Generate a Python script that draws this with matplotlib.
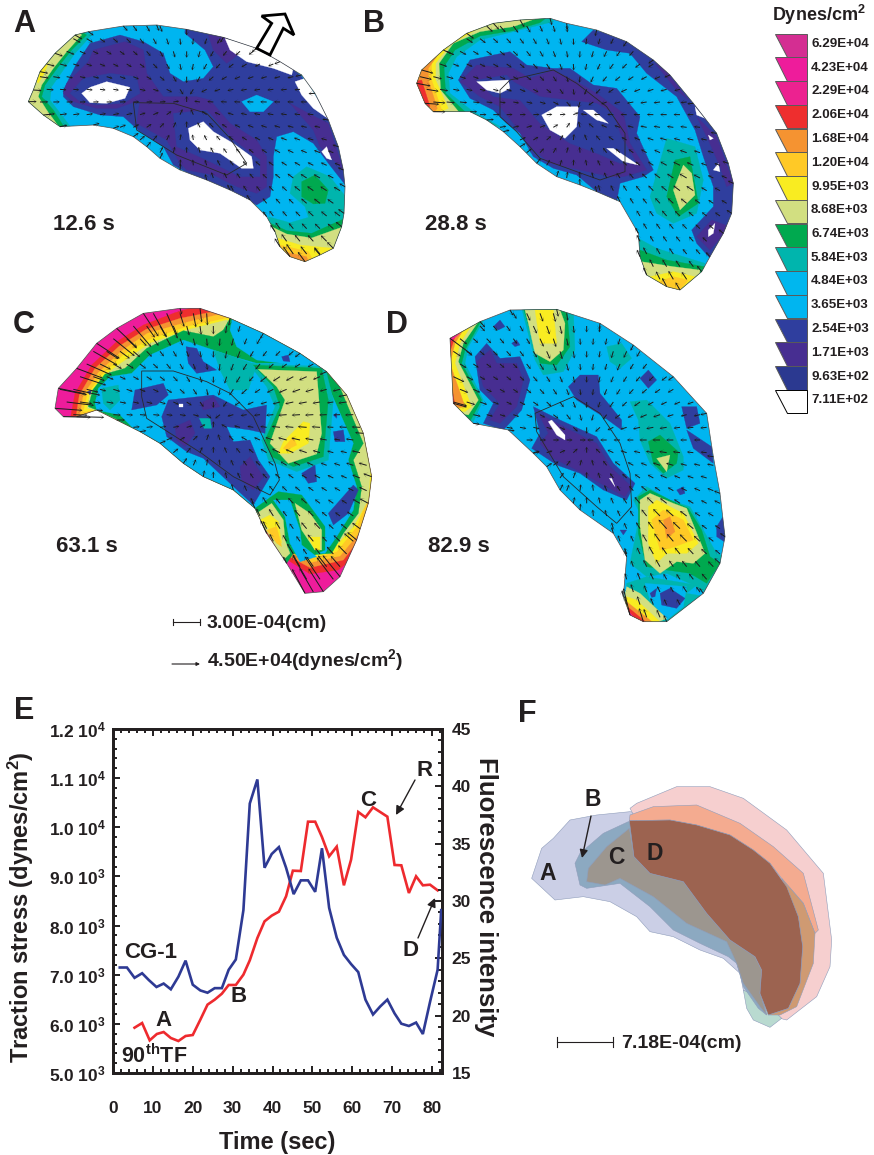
import matplotlib
matplotlib.use("Agg")
import matplotlib.pyplot as plt
import numpy as np
from matplotlib.patches import Polygon
from matplotlib.path import Path
from matplotlib.ticker import FixedLocator, MultipleLocator

plt.rcParams.update({
    "font.family": ["Liberation Sans", "DejaVu Sans"],
    "font.weight": "bold",
    "axes.labelweight": "bold",
    "mathtext.fontset": "custom",
    "mathtext.bf": "Liberation Sans:bold",
    "mathtext.rm": "Liberation Sans:bold",
    "mathtext.default": "bf",
    "text.color": "#231F20",
    "axes.labelcolor": "#231F20",
    "xtick.color": "#231F20",
    "ytick.color": "#231F20",
})

INK = "#231F20"

# stress legend, top to bottom
LEVEL_LABELS = ["6.29E+04", "4.23E+04", "2.29E+04", "2.06E+04", "1.68E+04", "1.20E+04",
                "9.95E+03", "8.68E+03", "6.74E+03", "5.84E+03", "4.84E+03", "3.65E+03",
                "2.54E+03", "1.71E+03", "9.63E+02", "7.11E+02"]
LEVEL_COLORS = ["#D42E92", "#EE1C9B", "#EC2290", "#EE2E2E", "#F59331", "#FFC926",
                "#F9EC21", "#D2DF81", "#00A94F", "#00B5AD", "#00B7EE", "#00B5F0",
                "#2F3E9E", "#472E91", "#2B3990", "#FFFFFF"]
MG, RE, OR, AM, YE, KH, GR, TE, SK, BL, PU, WH = (
    "4.23E+04", "2.06E+04", "1.68E+04", "1.20E+04", "9.95E+03", "8.68E+03",
    "6.74E+03", "5.84E+03", "3.65E+03", "2.54E+03", "1.71E+03", "7.11E+02")

# Panel E traces
CG1_TIME = [1.7, 3.5, 5.4, 7.3, 9.0, 10.9, 12.7, 14.5, 16.4, 18.2, 20.0, 21.9, 23.7, 25.5, 27.3, 29.0,
            30.8, 32.7, 34.3, 36.2, 38.0, 39.8, 41.6, 43.4, 45.3, 47.1, 48.9, 50.7, 52.4, 54.2, 56.1,
            57.9, 59.7, 61.5, 63.3, 65.2, 67.0, 68.8, 70.6, 72.3, 74.2, 76.0, 77.7, 79.5, 81.4, 82.3]
CG1_FLUOR = [24.2, 24.2, 23.3, 23.7, 23.1, 22.5, 22.8, 22.3, 23.4, 24.8, 22.7, 22.2, 22.0, 22.4, 22.4, 24.0,
             24.9, 29.2, 38.5, 40.6, 32.9, 34.1, 34.7, 32.9, 30.6, 31.8, 31.8, 30.8, 34.6, 29.4, 26.8,
             25.3, 24.5, 23.8, 21.4, 20.1, 20.8, 21.4, 20.2, 19.3, 19.1, 19.4, 18.4, 21.2, 24.0, 29.2]
TF_TIME = [5.4, 7.3, 9.2, 11.0, 12.7, 14.5, 16.4, 18.2, 20.0, 21.9, 23.7, 25.5, 27.3, 29.0, 30.8, 32.7,
           34.3, 36.2, 38.0, 39.8, 41.6, 43.4, 45.1, 47.1, 48.9, 50.7, 52.4, 54.2, 56.1, 57.9, 59.7,
           61.5, 63.3, 65.2, 67.0, 68.8, 70.6, 72.3, 74.2, 76.0, 77.7, 79.5, 81.4]
TF_STRESS = [5922, 6017, 5665, 5794, 5834, 5712, 5651, 5753, 5773, 6085, 6391, 6492, 6614, 6791, 6791, 7001,
             7293, 7747, 8086, 8202, 8283, 8595, 9117, 9110, 10114, 10114, 9802, 9409, 9606, 8819, 9341,
             10311, 10203, 10406, 10311, 10216, 9233, 9226, 8663, 9002, 8819, 8832, 8717]
STRESS_TICKS = [5000, 6000, 7000, 8000, 9000, 10000, 11000, 12000]
STRESS_LABELS = [r"5.0 10$^{3}$", r"6.0 10$^{3}$", r"7.0 10$^{3}$", r"8.0 10$^{3}$", r"9.0 10$^{3}$",
                 r"1.0 10$^{4}$", r"1.1 10$^{4}$", r"1.2 10$^{4}$"]
FLUOR_TICKS = [15, 20, 25, 30, 35, 40, 45]
TIME_TICKS = [0, 10, 20, 30, 40, 50, 60, 70, 80]

OUTLINE_A = [(85, 305), (100, 270), (120, 215), (165, 160), (225, 105), (265, 95), (370, 78), (470, 75), (560, 88),
             (670, 112), (770, 145), (840, 185), (905, 225), (945, 280), (985, 360), (1015, 440), (1030, 510),
             (1035, 560), (1032, 640), (1025, 680), (1000, 745), (960, 765), (915, 785), (870, 770), (840, 740),
             (825, 695), (800, 650), (750, 600), (690, 570), (620, 540), (540, 510), (480, 475), (440, 440),
             (400, 410), (340, 385), (280, 375), (180, 380), (130, 345)]
NUCLEUS_A = [(400, 308), (520, 310), (620, 340), (690, 415), (740, 490), (680, 525), (530, 465), (410, 390)]
LAYERS_A = [
    (SK, OUTLINE_A),
    (TE, [(60, 300), (100, 150), (220, 80), (275, 105), (225, 160), (190, 210), (155, 260), (150, 300), (185, 345), (215, 385), (150, 400)]),
    (GR, [(60, 300), (100, 150), (220, 80), (260, 105), (215, 150), (175, 200), (135, 255), (125, 290), (160, 330), (195, 385), (150, 400)]),
    (KH, [(60, 300), (100, 150), (220, 80), (245, 105), (200, 155), (160, 205), (125, 255), (115, 290), (140, 330), (180, 385), (150, 400)]),
    (YE, [(110, 245), (125, 205), (145, 190), (130, 225), (115, 250)]),
    (TE, [(880, 530), (920, 500), (990, 530), (1045, 600), (1045, 720), (800, 720), (805, 650), (870, 668), (925, 652), (915, 620), (870, 580)]),
    (GR, [(905, 545), (945, 525), (985, 570), (975, 610), (940, 612), (905, 590)]),
    (GR, [(808, 668), (860, 692), (935, 700), (1035, 655), (1040, 800), (790, 800)]),
    (KH, [(810, 678), (860, 702), (935, 714), (1030, 680), (1040, 800), (790, 800)]),
    (YE, [(835, 715), (900, 735), (1000, 745), (1000, 800), (820, 800)]),
    (AM, [(840, 735), (925, 755), (950, 800), (830, 800)]),
    (OR, [(850, 755), (920, 770), (930, 800), (850, 800)]),
    (BL, [(190, 270), (230, 190), (270, 130), (360, 105), (430, 125), (490, 160), (510, 220), (550, 245), (610, 235), (640, 200),
          (615, 150), (555, 100), (555, 80), (680, 100), (760, 130), (860, 190), (905, 230), (990, 350), (1040, 510), (1040, 560),
          (985, 490), (940, 430), (880, 395), (830, 410), (820, 470), (820, 530), (810, 590), (770, 615), (690, 575), (610, 545),
          (520, 495), (490, 440), (420, 395), (370, 350), (300, 345), (220, 320), (190, 290)]),
    (PU, [(190, 280), (200, 250), (265, 185), (280, 150), (375, 125), (430, 150), (440, 220), (490, 290), (590, 290), (630, 300),
          (690, 370), (770, 420), (800, 470), (800, 560), (770, 580), (710, 560), (640, 525), (560, 510), (540, 490), (500, 420),
          (410, 370), (420, 300), (350, 325), (290, 325), (220, 305)]),
    (PU, [(625, 105), (680, 110), (720, 160), (680, 190), (640, 150)]),
    (PU, [(870, 310), (935, 345), (985, 370), (1030, 510), (960, 440), (940, 390)]),
    (BL, [(210, 280), (250, 235), (330, 220), (410, 230), (420, 280), (370, 310), (290, 315), (240, 305)]),
    (WH, [(245, 280), (270, 262), (320, 245), (390, 262), (375, 295), (320, 310), (270, 308)]),
    (BL, [(520, 340), (620, 330), (700, 420), (780, 480), (780, 530), (720, 530), (620, 480), (530, 440)]),
    (WH, [(565, 385), (610, 365), (640, 395), (700, 430), (755, 470), (760, 505), (725, 505), (660, 460), (600, 450), (570, 420)]),
    (SK, [(725, 305), (770, 285), (820, 305), (790, 335), (750, 335)]),
    (WH, [(675, 115), (770, 140), (880, 205), (875, 225), (820, 205), (740, 185), (690, 150)]),
    (WH, [(885, 245), (915, 235), (990, 360), (940, 325), (905, 285)]),
    (WH, [(965, 455), (980, 440), (995, 480), (980, 475)]),
]

OUTLINE_B = [(110, 250), (125, 210), (190, 150), (260, 100), (340, 70), (420, 60), (510, 55), (560, 70), (650, 90), (740, 125),
             (820, 180), (870, 225), (940, 310), (1010, 400), (1045, 490), (1060, 550), (1055, 640), (1030, 700), (990, 770),
             (965, 815), (900, 870), (860, 860), (800, 825), (780, 770), (775, 700), (720, 605), (650, 575), (600, 555),
             (530, 530), (470, 490), (420, 440), (370, 395), (320, 360), (270, 335), (160, 335), (135, 310)]
NUCLEUS_B = [(360, 270), (390, 240), (520, 210), (590, 250), (680, 320), (735, 400), (735, 515), (660, 540), (590, 515),
             (480, 475), (410, 395), (360, 350)]
LAYERS_B = [
    (SK, OUTLINE_B),
    (TE, [(90, 250), (100, 150), (300, 50), (510, 40), (520, 65), (420, 90), (300, 120), (230, 170), (205, 220), (210, 280), (280, 335), (370, 385), (300, 360), (150, 350)]),
    (GR, [(90, 250), (100, 150), (300, 50), (510, 45), (480, 68), (400, 92), (300, 108), (225, 150), (192, 200), (197, 280), (258, 338), (150, 350)]),
    (KH, [(90, 250), (100, 150), (300, 50), (470, 55), (400, 80), (300, 95), (220, 130), (177, 190), (182, 270), (240, 340), (150, 350)]),
    (YE, [(90, 250), (100, 150), (300, 50), (345, 65), (290, 88), (210, 135), (167, 190), (167, 240), (205, 325), (150, 350)]),
    (AM, [(90, 250), (100, 150), (290, 70), (290, 80), (200, 130), (155, 190), (155, 240), (185, 330), (150, 350)]),
    (OR, [(90, 250), (100, 150), (150, 170), (170, 170), (145, 205), (145, 240), (172, 325), (150, 350)]),
    (RE, [(100, 245), (125, 240), (150, 320), (130, 320)]),
    (BL, [(605, 125), (640, 90), (740, 115), (870, 215), (1015, 390), (1070, 540), (1065, 650), (990, 775), (950, 730), (935, 690),
          (1000, 620), (1000, 560), (970, 470), (945, 390), (890, 290), (800, 220), (750, 160), (680, 150), (620, 130)]),
    (PU, [(950, 350), (1010, 410), (1060, 550), (1040, 560), (1020, 500), (985, 420)]),
    (PU, [(950, 710), (995, 660), (1050, 680), (990, 750)]),
    (PU, [(825, 190), (860, 215), (925, 300), (890, 270)]),
    (WH, [(985, 690), (1005, 670), (1000, 700), (985, 710)]),
    (WH, [(1000, 510), (1015, 490), (1020, 515)]),
    (WH, [(985, 405), (1000, 415), (990, 420)]),
    (WH, [(945, 320), (975, 355), (950, 345)]),
    (BL, [(235, 240), (270, 180), (340, 165), (390, 155), (440, 195), (520, 205), (570, 205), (640, 255), (710, 265), (780, 350),
          (770, 400), (820, 510), (790, 530), (720, 550), (710, 605), (650, 575), (590, 525), (520, 505), (460, 470), (420, 400),
          (380, 370), (340, 330), (270, 295)]),
    (PU, [(240, 245), (290, 195), (400, 205), (450, 235), (520, 210), (590, 245), (650, 280), (730, 340), (750, 430), (800, 510),
          (730, 530), (690, 530), (600, 510), (510, 490), (450, 440), (400, 370), (360, 320), (300, 290)]),
    (BL, [(290, 240), (380, 225), (400, 245), (480, 290), (560, 300), (650, 310), (700, 340), (720, 400), (770, 490), (720, 490),
          (650, 460), (570, 430), (480, 370), (420, 300), (340, 290)]),
    (WH, [(290, 245), (385, 240), (390, 265), (360, 280), (320, 270)]),
    (WH, [(485, 345), (530, 320), (595, 320), (590, 380), (555, 415), (510, 390)]),
    (WH, [(610, 330), (640, 330), (685, 370), (650, 360)]),
    (WH, [(680, 445), (700, 445), (775, 495), (730, 485)]),
    (TE, [(810, 590), (860, 415), (945, 440), (970, 540), (950, 640), (880, 670), (830, 640)]),
    (GR, [(860, 590), (885, 480), (930, 470), (955, 610), (895, 650)]),
    (KH, [(880, 570), (910, 495), (935, 520), (945, 585), (900, 630)]),
    (TE, [(775, 715), (830, 745), (975, 790), (950, 900), (770, 900)]),
    (GR, [(780, 750), (860, 780), (975, 800), (980, 900), (770, 900)]),
    (KH, [(785, 785), (880, 800), (960, 810), (950, 900), (780, 900)]),
    (YE, [(810, 830), (880, 815), (945, 830), (890, 900), (810, 880)]),
    (AM, [(835, 845), (880, 830), (925, 840), (890, 880), (860, 870)]),
]

OUTLINE_C = [(165, 325), (175, 265), (230, 205), (290, 130), (350, 85), (430, 40), (540, 25), (600, 25), (690, 55), (790, 100),
             (900, 160), (980, 215), (1040, 285), (1090, 400), (1115, 530), (1105, 610), (1070, 720), (1020, 830), (970, 875),
             (915, 880), (860, 790), (800, 700), (765, 625), (700, 570), (610, 530), (550, 490), (480, 430), (420, 395),
             (350, 360), (290, 330), (230, 350), (190, 350)]
NUCLEUS_C = [(425, 213), (520, 213), (620, 245), (690, 280), (760, 350), (825, 490), (838, 540), (810, 585), (700, 530),
             (605, 460), (440, 355), (425, 290)]
LAYERS_C = [
    (MG, OUTLINE_C),
    (RE, [(212, 350), (225, 280), (275, 195), (350, 125), (430, 75), (525, 38), (620, 10), (1150, 200), (1150, 740), (1040, 790), (1015, 810), (930, 822), (855, 775), (700, 600), (300, 345)]),
    (OR, [(228, 350), (238, 285), (285, 205), (358, 138), (438, 88), (540, 55), (640, 35), (720, 30), (1150, 250), (1150, 620), (1090, 700), (1030, 780), (930, 803), (860, 765), (780, 670), (300, 345)]),
    (AM, [(240, 345), (250, 285), (295, 218), (368, 150), (442, 100), (555, 68), (650, 45), (720, 40), (1150, 300), (1130, 560), (1085, 690), (1020, 768), (930, 788), (850, 745), (785, 655), (290, 335)]),
    (YE, [(250, 335), (262, 285), (300, 230), (370, 165), (445, 120), (560, 80), (655, 60), (720, 45), (1150, 300), (1118, 560), (1070, 680), (1010, 755), (930, 775), (860, 730), (850, 680), (790, 650), (760, 620), (420, 395), (370, 365), (290, 330)]),
    (KH, [(262, 325), (270, 280), (310, 230), (355, 195), (450, 130), (560, 90), (680, 60), (1100, 300), (1112, 500), (1105, 600), (1060, 680), (1000, 745), (930, 770), (860, 720), (850, 690), (770, 640), (740, 610), (420, 410), (360, 365), (290, 330)]),
    (GR, [(265, 320), (278, 270), (315, 222), (375, 205), (440, 145), (550, 92), (640, 110), (670, 90), (690, 55), (800, 50), (1000, 215), (1090, 430), (1060, 480), (1085, 560), (1075, 640), (1030, 700), (995, 760), (930, 765), (900, 720), (850, 680), (790, 650), (700, 600), (600, 550), (530, 500), (460, 440), (370, 380), (355, 360), (290, 330)]),
    (SK, [(285, 310), (295, 265), (330, 230), (395, 220), (450, 165), (550, 120), (640, 150), (700, 170), (770, 190), (950, 190), (985, 260), (1060, 430), (1045, 480), (1070, 560), (1060, 630), (1010, 710), (975, 760), (930, 760), (900, 700), (850, 630), (810, 590), (790, 650), (700, 590), (610, 550), (540, 510), (470, 440), (400, 385), (360, 345), (290, 330)]),
    (SK, [(700, 40), (800, 50), (1010, 210), (960, 205), (770, 180), (710, 140), (690, 90)]),
    (TE, [(640, 150), (700, 170), (770, 195), (745, 270), (690, 270), (660, 210)]),
    (TE, [(305, 265), (355, 255), (360, 300), (330, 330), (310, 310)]),
    (TE, [(745, 190), (975, 200), (1000, 300), (985, 480), (890, 515), (805, 480), (785, 420), (825, 320), (800, 260)]),
    (GR, [(760, 195), (965, 205), (985, 300), (970, 470), (880, 500), (815, 470), (795, 420), (840, 320), (820, 260)]),
    (KH, [(775, 208), (950, 215), (965, 400), (950, 462), (865, 490), (810, 430), (855, 300), (830, 260)]),
    (YE, [(835, 460), (850, 425), (910, 365), (930, 370), (925, 430), (870, 460)]),
    (AM, [(850, 445), (880, 410), (890, 435), (860, 450)]),
    (GR, [(765, 625), (835, 575), (905, 585), (975, 680), (975, 750), (920, 775), (880, 760), (860, 790), (780, 660)]),
    (KH, [(770, 640), (815, 610), (850, 660), (855, 720), (870, 760), (850, 780)]),
    (YE, [(780, 660), (810, 645), (835, 665), (845, 730), (820, 700)]),
    (AM, [(800, 690), (830, 680), (845, 740), (830, 730)]),
    (SK, [(820, 600), (870, 600), (900, 690), (905, 735), (950, 770), (900, 785), (870, 730), (855, 650)]),
    (KH, [(885, 610), (930, 640), (965, 690), (965, 750), (945, 750), (905, 690)]),
    (YE, [(925, 710), (960, 710), (960, 750), (945, 750)]),
    (BL, [(395, 330), (405, 270), (490, 250), (505, 285), (470, 315)]),
    (BL, [(485, 350), (505, 300), (640, 285), (730, 330), (800, 315), (795, 400), (750, 390), (680, 380), (700, 425), (750, 420), (775, 480), (810, 530), (760, 615), (690, 550), (610, 475), (560, 455), (500, 410)]),
    (PU, [(525, 380), (570, 360), (585, 400), (555, 440), (530, 420)]),
    (PU, [(720, 500), (750, 470), (790, 530), (760, 570), (725, 540)]),
    (PU, [(600, 310), (640, 290), (660, 320), (610, 330)]),
    (TE, [(598, 355), (630, 355), (635, 385), (612, 385)]),
    (WH, [(538, 312), (548, 312), (548, 320), (538, 320)]),
    (BL, [(558, 140), (590, 145), (610, 185), (650, 210), (590, 220), (565, 190)]),
    (BL, [(845, 170), (865, 165), (870, 185), (850, 183)]),
    (BL, [(905, 520), (945, 495), (950, 545), (925, 550)]),
    (BL, [(985, 640), (1060, 555), (1075, 570), (1045, 640), (1000, 675)]),
    (BL, [(1000, 395), (1030, 390), (1035, 425), (1005, 425)]),
    (BL, [(1000, 345), (1010, 340), (1010, 355)]),
    (BL, [(262, 275), (275, 270), (270, 285)]),
]

OUTLINE_D = [(150, 115), (240, 65), (330, 30), (470, 28), (600, 70), (700, 135), (820, 230), (920, 340), (940, 470), (960, 580),
             (975, 710), (960, 790), (910, 880), (800, 965), (730, 965), (690, 945), (670, 890), (680, 770), (640, 700),
             (540, 630), (480, 570), (440, 500), (400, 460), (325, 390), (220, 370), (160, 310)]
NUCLEUS_D = [(405, 340), (520, 290), (600, 340), (660, 430), (690, 520), (695, 620), (650, 670), (590, 620), (490, 530), (410, 395)]
LAYERS_D = [
    (SK, OUTLINE_D),
    (TE, [(130, 100), (240, 60), (250, 65), (205, 140), (195, 190), (250, 300), (220, 365), (140, 330)]),
    (GR, [(130, 100), (245, 60), (195, 150), (185, 190), (245, 300), (212, 360), (140, 330)]),
    (KH, [(130, 100), (235, 65), (190, 130), (175, 185), (235, 300), (205, 345), (140, 330)]),
    (YE, [(130, 100), (215, 75), (180, 130), (165, 190), (215, 320), (195, 335), (140, 330)]),
    (OR, [(130, 100), (190, 90), (165, 130), (150, 190), (195, 320), (140, 330)]),
    (RE, [(130, 100), (165, 110), (145, 170), (150, 230), (165, 315), (140, 330)]),
    (MG, [(145, 105), (180, 100), (150, 125)]),
    (TE, [(365, 25), (520, 25), (525, 150), (490, 215), (430, 225), (405, 180)]),
    (GR, [(370, 25), (500, 25), (510, 140), (470, 195), (420, 190)]),
    (KH, [(375, 30), (480, 30), (495, 70), (490, 150), (450, 185), (405, 160), (385, 70)]),
    (YE, [(405, 30), (460, 30), (470, 130), (420, 130)]),
    (BL, [(225, 170), (260, 130), (300, 175), (360, 170), (390, 240), (365, 330), (310, 390), (250, 370), (280, 310), (240, 270)]),
    (PU, [(230, 185), (270, 150), (290, 190), (350, 190), (370, 240), (350, 320), (300, 370), (270, 360), (300, 310), (250, 260)]),
    (BL, [(280, 80), (300, 60), (315, 80), (295, 90)]),
    (BL, [(335, 130), (350, 120), (360, 135), (345, 140)]),
    (BL, [(720, 235), (745, 210), (770, 240), (745, 265)]),
    (BL, [(845, 320), (890, 320), (900, 370), (860, 385)]),
    (BL, [(860, 390), (935, 440), (940, 490), (880, 445)]),
    (BL, [(505, 260), (540, 225), (595, 225), (600, 280), (665, 360), (665, 390), (610, 350), (530, 300)]),
    (BL, [(400, 320), (480, 360), (590, 410), (640, 490), (705, 550), (680, 600), (610, 570), (540, 520), (470, 495), (395, 445), (420, 400)]),
    (PU, [(415, 340), (500, 385), (590, 430), (630, 500), (695, 560), (675, 590), (610, 555), (530, 510), (460, 475), (420, 430), (445, 400)]),
    (WH, [(445, 365), (455, 360), (495, 405), (495, 420), (470, 405)]),
    (WH, [(628, 535), (635, 535), (645, 560)]),
    (TE, [(620, 140), (665, 130), (695, 175), (660, 205), (630, 185)]),
    (TE, [(690, 305), (740, 300), (810, 370), (850, 470), (850, 510), (800, 535), (750, 490), (720, 420), (715, 360)]),
    (GR, [(745, 425), (780, 405), (835, 455), (830, 490), (790, 520), (760, 490)]),
    (KH, [(770, 475), (810, 465), (800, 515)]),
    (TE, [(700, 600), (740, 560), (810, 600), (870, 620), (950, 760), (975, 770), (920, 880), (880, 855), (800, 820), (740, 830), (690, 790), (720, 640)]),
    (GR, [(715, 590), (750, 570), (810, 600), (865, 625), (905, 690), (930, 770), (960, 790), (920, 850), (870, 820), (800, 810), (740, 800), (715, 700)]),
    (KH, [(720, 600), (750, 580), (820, 610), (860, 625), (915, 760), (880, 790), (830, 785), (780, 820), (735, 780), (720, 680)]),
    (YE, [(745, 620), (770, 600), (850, 640), (895, 730), (860, 760), (800, 760), (770, 790), (745, 730)]),
    (AM, [(755, 660), (790, 630), (850, 660), (880, 720), (810, 745), (780, 750)]),
    (OR, [(790, 660), (810, 650), (825, 695), (800, 715)]),
    (TE, [(680, 850), (740, 830), (890, 855), (860, 880), (920, 890), (800, 980), (680, 970)]),
    (SK, [(735, 850), (860, 860), (850, 920), (800, 960), (750, 900)]),
    (BL, [(780, 880), (810, 865), (855, 895), (830, 925), (785, 915)]),
    (BL, [(750, 880), (770, 865), (765, 890), (755, 892)]),
    (KH, [(680, 860), (720, 880), (800, 955), (720, 990), (660, 950)]),
    (YE, [(680, 890), (710, 900), (780, 965), (700, 990), (660, 950)]),
    (OR, [(680, 905), (760, 968), (700, 980)]),
    (RE, [(682, 920), (740, 968), (690, 970)]),
    (MG, [(682, 930), (715, 965), (695, 965)]),
    (BL, [(950, 680), (975, 640), (980, 730), (950, 710)]),
    (BL, [(830, 570), (850, 560), (855, 580), (840, 585)]),
    (BL, [(660, 690), (680, 690), (670, 705)]),
]

# direction of the traction arrows, read per panel
FOCUS_A, FOCUS_B, FOCUS_C, FOCUS_D = (560, 300), (590, 340), (640, 360), (560, 420)

VECTOR_XS = [60, 100, 140, 180, 220, 260, 300, 340, 380, 420, 460, 500, 540, 580, 620, 660, 700, 740, 780, 820, 860, 900, 940, 980, 1020, 1060, 1100]
VECTOR_YS = [40, 78, 116, 154, 192, 230, 268, 306, 344, 382, 420, 458, 496, 534, 572, 610, 648, 686, 724, 762, 800, 838, 876, 914, 952]

# Panel F cell footprints, crop pixels
F_A = [(65, 535), (95, 445), (130, 415), (180, 360), (260, 345), (360, 335), (500, 360), (640, 400), (760, 470), (830, 560), (900, 700),
       (910, 780), (870, 900), (800, 950), (750, 940), (700, 870), (690, 820), (640, 775), (570, 750), (490, 710), (420, 695), (380, 650),
       (300, 605), (220, 590), (135, 600)]
F_D = [(360, 325), (380, 310), (500, 260), (600, 260), (700, 295), (830, 390), (940, 520), (965, 720), (960, 800), (920, 890), (830, 960),
       (770, 945), (750, 860), (760, 700), (400, 400)]
F_B_TIP = [(700, 870), (710, 925), (730, 960), (780, 982), (815, 955), (760, 900)]
F_B = [(195, 490), (210, 460), (280, 400), (355, 365), (520, 400), (700, 600), (750, 860), (770, 945), (745, 925), (700, 860), (680, 790),
       (655, 770), (570, 730), (490, 690), (420, 620), (330, 550), (230, 565), (210, 555)]
F_C_SALMON = [(358, 362), (360, 345), (430, 320), (560, 315), (690, 370), (790, 440), (880, 520), (925, 690), (915, 700), (880, 610), (815, 535),
              (780, 490), (730, 450), (660, 405), (560, 375), (480, 360)]
F_C_TAN = [(815, 535), (880, 610), (915, 700), (910, 790), (860, 920), (810, 945), (775, 945), (835, 925), (870, 850), (878, 740), (865, 650)]
F_C_GREY = [(230, 545), (235, 505), (290, 440), (358, 385), (372, 470), (420, 520), (520, 545), (590, 640), (660, 720), (735, 770), (755, 810),
            (750, 880), (770, 945), (750, 920), (700, 850), (680, 790), (650, 725), (530, 670), (430, 590), (330, 535), (285, 555)]
F_BROWN = [(358, 362), (480, 360), (560, 375), (660, 405), (730, 450), (780, 490), (830, 560), (865, 650), (878, 740), (870, 850), (835, 925),
           (775, 945), (750, 880), (755, 810), (735, 770), (660, 720), (590, 640), (520, 545), (420, 520), (372, 470)]


def crop_to_px(points, origin):
    pts = np.asarray(points, dtype=float) / 3.0
    return pts + np.asarray(origin, dtype=float)


def draw_panel(ax, origin, outline, layers, nucleus, focus):
    outline_px = crop_to_px(outline, origin)
    clip = Polygon(outline_px, closed=True, facecolor="none", edgecolor="none", transform=ax.transData)
    ax.add_patch(clip)
    paths = []
    for label, points in layers:
        pts = crop_to_px(points, origin)
        color = LEVEL_COLORS[LEVEL_LABELS.index(label)]
        patch = Polygon(pts, closed=True, facecolor=color, edgecolor=color, linewidth=0.2, zorder=2)
        ax.add_patch(patch)
        patch.set_clip_path(clip)
        paths.append((label, Path(pts)))
    ax.add_patch(Polygon(outline_px, closed=True, fill=False, edgecolor="#4A4A4A", linewidth=0.5, zorder=3))
    ax.add_patch(Polygon(crop_to_px(nucleus, origin), closed=True, fill=False, edgecolor="#2A2A2A", linewidth=0.6, zorder=3))

    # arrows on the mesh plus the ones sitting on the cell edge
    grid = np.array([(x + (20 if j % 2 else 0), y) for j, y in enumerate(VECTOR_YS) for x in VECTOR_XS], dtype=float)
    grid_px = crop_to_px(grid, origin)
    inside = Path(outline_px).contains_points(grid_px)
    pts = np.vstack([grid_px[inside], outline_px])
    n_mesh = int(inside.sum())
    centre = crop_to_px([focus], origin)[0]
    stress = np.full(len(pts), float(SK))
    for label, path in paths:
        stress[path.contains_points(pts)] = float(label)
    vec = centre - pts
    vec /= np.linalg.norm(vec, axis=1, keepdims=True)
    length = 5.5 + 22.0 * (stress / float(MG)) ** 1.3
    length[n_mesh:] = np.maximum(length[n_mesh:], 6.0)
    ax.quiver(pts[:, 0], pts[:, 1], vec[:, 0] * length, vec[:, 1] * length, angles="xy", scale_units="xy", scale=1,
              units="dots", width=1.0, headwidth=5.5, headlength=4.5, headaxislength=1.5, minshaft=0.3, minlength=0,
              color="#1C1C1C", zorder=4)


def draw_legend(ax):
    ax.text(772, 15, r"Dynes/cm$^{2}$", fontsize=13, ha="left", va="center")
    for i, (label, color) in enumerate(zip(LEVEL_LABELS, LEVEL_COLORS)):
        top = 33.5 + i * 23.75
        bottom = top + 23.5
        edge = "#000000" if label == WH else "#5A5A5A"
        ax.add_patch(Polygon([(775, top), (806.5, top), (806.5, bottom), (787, bottom)], closed=True,
                             facecolor=color, edgecolor=edge, linewidth=0.7))
        ax.text(811, top + 10.5, label, fontsize=9.6, ha="left", va="center")


def draw_stress_chart(fig):
    ax = fig.add_axes([113 / 874, 1 - 1073 / 1155, (442 - 113) / 874, (1073 - 729) / 1155])
    ax.patch.set_alpha(0)
    ax.plot(TF_TIME, TF_STRESS, color="#EE2A2E", linewidth=1.9, solid_joinstyle="miter", zorder=4)
    ax.set_xlim(0, 82.5)
    ax.set_ylim(5000, 12000)
    ax.xaxis.set_major_locator(FixedLocator(TIME_TICKS))
    ax.xaxis.set_minor_locator(MultipleLocator(2))
    ax.yaxis.set_major_locator(FixedLocator(STRESS_TICKS))
    ax.yaxis.set_minor_locator(MultipleLocator(200))
    ax.set_yticklabels(STRESS_LABELS)
    ax.tick_params(axis="x", which="both", direction="in", top=True, width=1.4)
    ax.tick_params(axis="x", which="major", length=5, labelsize=12.5, pad=20)
    ax.tick_params(axis="x", which="minor", length=3)
    ax.tick_params(axis="y", which="both", direction="in", width=1.4)
    ax.tick_params(axis="y", which="major", length=5, labelsize=12.5, pad=5)
    ax.tick_params(axis="y", which="minor", length=3)
    ax.set_xlabel("Time (sec)", fontsize=17, labelpad=11)

    right = ax.twinx()
    right.plot(CG1_TIME, CG1_FLUOR, color="#2E3A94", linewidth=1.9, solid_joinstyle="miter", zorder=3)
    right.set_ylim(15, 45)
    right.yaxis.set_major_locator(FixedLocator(FLUOR_TICKS))
    right.yaxis.set_minor_locator(MultipleLocator(1))
    right.tick_params(axis="y", which="both", direction="in", width=1.4)
    right.tick_params(axis="y", which="major", length=5, labelsize=12.5, pad=7)
    right.tick_params(axis="y", which="minor", length=3)
    for spine_ax in (ax, right):
        for spine in spine_ax.spines.values():
            spine.set_linewidth(2.0)
            spine.set_color(INK)
    return ax


def main():
    fig = plt.figure(figsize=(8.74, 11.55), dpi=100, facecolor="white")
    canvas = fig.add_axes([0, 0, 1, 1])
    canvas.set_xlim(0, 874)
    canvas.set_ylim(1155, 0)
    canvas.axis("off")

    draw_panel(canvas, (0, 0), OUTLINE_A, LAYERS_A, NUCLEUS_A, FOCUS_A)
    draw_panel(canvas, (380, 0), OUTLINE_B, LAYERS_B, NUCLEUS_B, FOCUS_B)
    draw_panel(canvas, (0, 300), OUTLINE_C, LAYERS_C, NUCLEUS_C, FOCUS_C)
    draw_panel(canvas, (400, 300), OUTLINE_D, LAYERS_D, NUCLEUS_D, FOCUS_D)
    draw_legend(canvas)

    # open direction arrow in A
    canvas.add_patch(Polygon(crop_to_px([(770, 145), (815, 70), (785, 48), (855, 42), (882, 105), (850, 85), (810, 165)], (0, 0)),
                             closed=True, facecolor="white", edgecolor="black", linewidth=2.0, zorder=6))

    for text, x, y in [("A", 13, 24), ("B", 363, 24), ("C", 13, 325), ("D", 386, 325), ("E", 14, 711), ("F", 518, 714)]:
        canvas.text(x, y, text, fontsize=22, ha="left", va="center", zorder=7)
    for text, x, y in [("12.6 s", 53, 225), ("28.8 s", 425, 225), ("63.1 s", 56, 546), ("82.9 s", 428, 547)]:
        canvas.text(x, y, text, fontsize=16, ha="left", va="center", zorder=7)

    # scale bars
    canvas.plot([173, 200], [622, 622], color=INK, linewidth=0.8)
    canvas.plot([173, 173], [619, 625], color=INK, linewidth=0.8)
    canvas.plot([200, 200], [619, 625], color=INK, linewidth=0.8)
    canvas.text(207, 624, "3.00E-04(cm)", fontsize=14, ha="left", va="center")
    canvas.annotate("", xy=(200, 664), xytext=(172, 664),
                    arrowprops=dict(arrowstyle="-|>", color=INK, linewidth=0.8, mutation_scale=5, shrinkA=0, shrinkB=0))
    canvas.text(207, 660, r"4.50E+04(dynes/cm$^{2}$)", fontsize=14, ha="left", va="center")

    draw_stress_chart(fig)

    # axis titles sit outside the chart, placed on the page like the rest
    overlay = fig.add_axes([0, 0, 1, 1], zorder=10)
    overlay.set_xlim(0, 874)
    overlay.set_ylim(1155, 0)
    overlay.axis("off")
    overlay.patch.set_alpha(0)
    overlay.text(21, 907, r"Traction stress (dynes/cm$^{2}$)", fontsize=17, rotation=90, ha="center", va="center")
    overlay.text(486, 897, "Fluorescence intensity", fontsize=18.5, rotation=270, ha="center", va="center")

    for text, x, y in [("CG-1", 151, 953), ("A", 163, 1021), ("B", 239, 997), ("C", 368, 800), ("R", 425, 770), ("D", 411, 950)]:
        overlay.text(x, y, text, fontsize=16, ha="center", va="center")
    overlay.text(121, 1056, r"90$^{th}$TF", fontsize=15.5, ha="left", va="center")
    overlay.annotate("", xy=(396, 815), xytext=(415, 780),
                     arrowprops=dict(arrowstyle="-|>", color=INK, linewidth=1.0, mutation_scale=13, shrinkA=0, shrinkB=0))
    overlay.annotate("", xy=(435, 898), xytext=(418, 938),
                     arrowprops=dict(arrowstyle="-|>", color=INK, linewidth=1.0, mutation_scale=13, shrinkA=0, shrinkB=0))

    # panel F
    for points, color in [(F_A, "#CBCFE6"), (F_D, "#F6CFCF"), (F_B_TIP, "#B9DAD0"), (F_B, "#8CA9C1"),
                          (F_C_SALMON, "#F4AB90"), (F_C_TAN, "#CF9A72"), (F_C_GREY, "#9C968F"), (F_BROWN, "#9C6350")]:
        overlay.add_patch(Polygon(crop_to_px(points, (510, 700)), closed=True, facecolor=color,
                                  edgecolor="#8F9DBB", linewidth=0.4))
    for text, x, y in [("A", 548, 874), ("B", 593, 800), ("C", 616, 857), ("D", 655, 853)]:
        overlay.text(x, y, text, fontsize=16.5, ha="center", va="center")
    overlay.annotate("", xy=(582, 858), xytext=(591, 816),
                     arrowprops=dict(arrowstyle="-|>", color=INK, linewidth=1.0, mutation_scale=12, shrinkA=0, shrinkB=0))
    overlay.plot([557, 613], [1042, 1042], color=INK, linewidth=0.8)
    overlay.plot([557, 557], [1037, 1047], color=INK, linewidth=0.8)
    overlay.plot([613, 613], [1037, 1047], color=INK, linewidth=0.8)
    overlay.text(621, 1043, "7.18E-04(cm)", fontsize=14, ha="left", va="center")

    fig.savefig("out.png", dpi=100)
    plt.close(fig)


main()
